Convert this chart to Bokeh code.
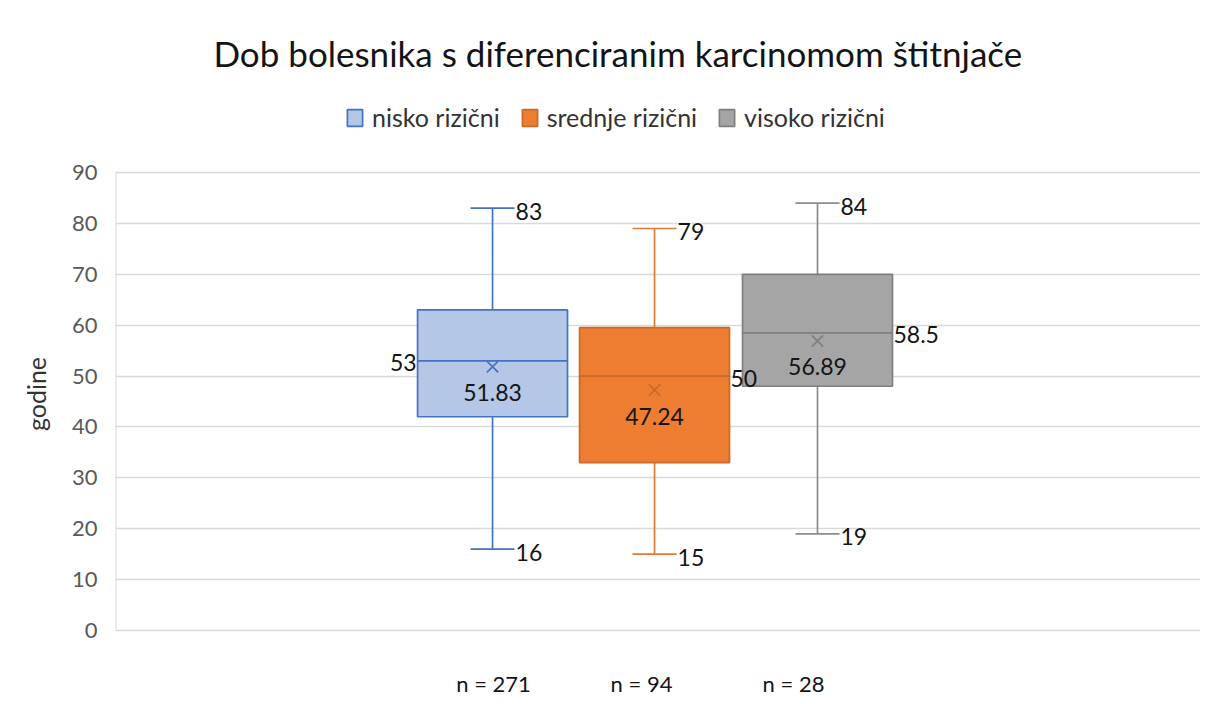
from bokeh.plotting import figure
from bokeh.models import Range1d, Legend, LegendItem, FixedTicker
from bokeh.embed import file_html
from bokeh.resources import INLINE
from bokeh.core.properties import value

# ---- data ----
series = ["nisko rizični", "srednje rizični", "visoko rizični"]
counts = ["n = 271", "n = 94", "n = 28"]
mins = [16, 15, 19]
q1 = [42, 33, 48]
medians = [53, 50, 58.5]
q3 = [63, 59.5, 70]
maxs = [83, 79, 84]
means = [51.83, 47.24, 56.89]
y_ticks = [0, 10, 20, 30, 40, 50, 60, 70, 80, 90]

# ---- styling / layout ----
FONT = "Lato"
fills = ["#B4C7E7", "#ED7D31", "#A5A5A5"]
lines = ["#4472C4", "#DE7B35", "#8C8C8C"]
median_lines = ["#4472C4", "#C86A2C", "#7F7F7F"]
BOX_X = [0.3475, 0.4968, 0.647]
BOX_W = 0.1382
CAP_W = 0.0406
COUNT_X = [0.3484, 0.4848, 0.6249]
COUNT_Y = -10.4
MED_SIDE = ["left", "right", "right"]
TXT = "#141414"
Y_RANGE = (-14.54, 107.49)

p = figure(width=1212, height=704, output_backend="svg", toolbar_location=None,
           x_range=Range1d(0, 1), y_range=Range1d(*Y_RANGE),
           min_border_left=115, min_border_right=12, min_border_top=83, min_border_bottom=0)
p.outline_line_color = None
p.background_fill_color = "white"
p.border_fill_color = "white"
p.xaxis.visible = False

p.title.text = "Dob bolesnika s diferenciranim karcinomom štitnjače"
p.title.align = "left"
p.title.offset = 98
p.title.text_font = FONT
p.title.text_font_size = "35px"
p.title.text_font_style = "normal"
p.title.text_color = TXT
p.title.standoff = 20

# y-axis line (only across the value range)
p.segment(x0=[0], x1=[0], y0=[y_ticks[0]], y1=[y_ticks[-1]], line_color="#d9d9d9", line_width=2)

items = []
for i in range(3):
    x = BOX_X[i]
    c = lines[i]
    p.segment(x0=[x, x], x1=[x, x], y0=[q3[i], q1[i]], y1=[maxs[i], mins[i]], line_color=c, line_width=1.7)
    p.segment(x0=[x - CAP_W / 2] * 2, x1=[x + CAP_W / 2] * 2, y0=[maxs[i], mins[i]], y1=[maxs[i], mins[i]],
              line_color=c, line_width=1.7)
    r = p.vbar(x=[x], width=BOX_W, top=[q3[i]], bottom=[q1[i]], fill_color=fills[i], line_color=median_lines[i],
               line_width=1.7)
    items.append(LegendItem(label=series[i], renderers=[r]))
    p.segment(x0=[x - BOX_W / 2], x1=[x + BOX_W / 2], y0=[medians[i]], y1=[medians[i]],
              line_color=median_lines[i], line_width=1.7)
    p.scatter(x=[x], y=[means[i]], marker="x", size=16, line_color=median_lines[i], line_width=1.7)

tk = dict(text_font=value(FONT), text_font_size="23px", text_color=TXT, text_baseline="middle")
for i in range(3):
    x = BOX_X[i]
    p.text(x=[x + CAP_W / 2, x + CAP_W / 2], y=[maxs[i], mins[i]],
           text=[f"{maxs[i]:g}", f"{mins[i]:g}"], text_align="left", x_offset=1, y_offset=3, **tk)
    if MED_SIDE[i] == "left":
        p.text(x=[x - BOX_W / 2], y=[medians[i]], text=[f"{medians[i]:g}"], text_align="right",
               x_offset=-1, y_offset=2, **tk)
    else:
        p.text(x=[x + BOX_W / 2], y=[medians[i]], text=[f"{medians[i]:g}"], text_align="left",
               x_offset=1, y_offset=2, **tk)
    p.text(x=[x], y=[means[i]], text=[f"{means[i]:.2f}"], text_align="center", y_offset=26, **tk)

p.text(x=COUNT_X, y=[COUNT_Y] * 3, text=counts, text_font=value(FONT), text_font_size="22px",
       text_color=TXT, text_align="center", text_baseline="middle")

legend = Legend(items=items, orientation="horizontal", location=(230, 572),
                label_text_font=FONT, label_text_font_size="25px", label_text_color="#333333",
                glyph_width=19, glyph_height=21, label_height=22, label_standoff=8, spacing=20,
                padding=4, margin=0, border_line_color=None, background_fill_alpha=0)
p.add_layout(legend)

p.xgrid.grid_line_color = None
p.ygrid.grid_line_color = "#d9d9d9"
p.ygrid.grid_line_width = 1.5
p.ygrid.ticker = FixedTicker(ticks=y_ticks)
p.yaxis.ticker = FixedTicker(ticks=y_ticks)
p.yaxis.axis_line_color = None
p.yaxis.major_tick_line_color = None
p.yaxis.minor_tick_line_color = None
p.yaxis.major_tick_out = 0
p.yaxis.major_tick_in = 0
p.yaxis.major_label_text_font = FONT
p.yaxis.major_label_text_font_size = "22px"
p.yaxis.major_label_text_color = "#595959"
p.yaxis.major_label_standoff = 18
p.yaxis.axis_label = "godine"
p.yaxis.axis_label_text_font = FONT
p.yaxis.axis_label_text_font_size = "25px"
p.yaxis.axis_label_text_font_style = "normal"
p.yaxis.axis_label_text_color = "#333333"
p.yaxis.axis_label_standoff = 18

open("out.html", "w").write(file_html(p, INLINE))
